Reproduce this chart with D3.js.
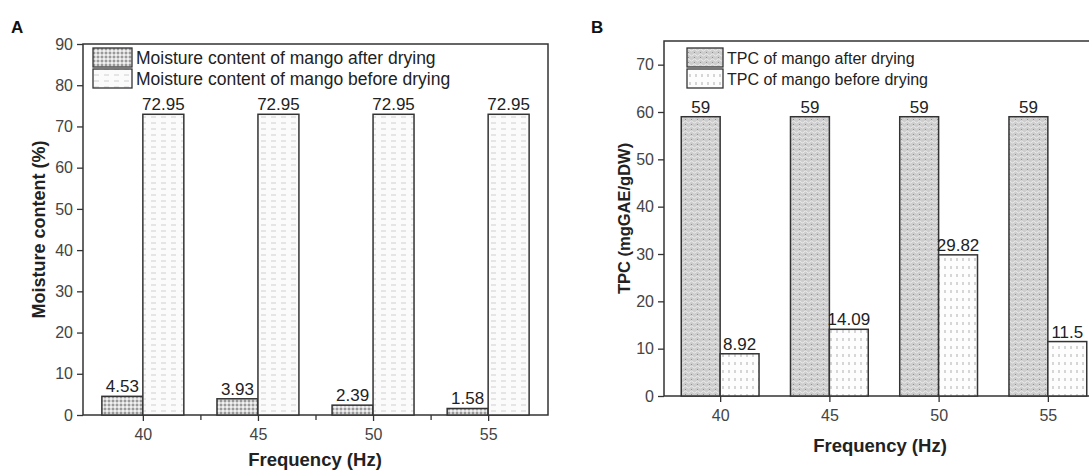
<!DOCTYPE html>
<html>
<head>
<meta charset="utf-8">
<script src="https://cdn.jsdelivr.net/npm/d3@7"></script>
<style>
  body { margin: 0; background: #fff; }
  svg { display: block; font-family: "Liberation Sans", Arial, sans-serif; }
  .tick text { fill: #444; font-size: 16px; }
  .tick line { stroke: #333; stroke-width: 1.3; }
</style>
</head>
<body>
<div id="chart"></div>
<script>
// values
const frequencies = [40, 45, 50, 55];
const moistureAfter = [4.53, 3.93, 2.39, 1.58];
const moistureBefore = [72.95, 72.95, 72.95, 72.95];
const tpcAfter = [59, 59, 59, 59];
const tpcBefore = [8.92, 14.09, 29.82, 11.5];

const moistureLegend = ["Moisture content of mango after drying", "Moisture content of mango before drying"];
const tpcLegend = ["TPC of mango after drying", "TPC of mango before drying"];

const width = 1089, height = 470;

const svg = d3.select("#chart").append("svg")
  .attr("width", width)
  .attr("height", height);

// fill patterns (grey textures of the original)
const defs = svg.append("defs");

function pattern(id, w, h, bg, draw) {
  let p = defs.append("pattern")
    .attr("id", id)
    .attr("patternUnits", "userSpaceOnUse")
    .attr("width", w)
    .attr("height", h);
  p.append("rect").attr("width", w).attr("height", h).attr("fill", bg);
  draw(p);
}

pattern("aAfter", 4, 4, "#d4d4d4", p => {
  p.append("rect").attr("x", 0).attr("y", 0).attr("width", 2).attr("height", 2).attr("fill", "#9a9a9a");
  p.append("rect").attr("x", 2).attr("y", 2).attr("width", 2).attr("height", 2).attr("fill", "#f0f0f0");
});
pattern("aBefore", 10, 6, "#fbfbfb", p => {
  p.append("line").attr("x1", 1).attr("x2", 6).attr("y1", 3).attr("y2", 3)
    .attr("stroke", "#cfcfcf").attr("stroke-width", 1);
});
pattern("bAfter", 6, 5, "#cdcdcd", p => {
  p.append("path").attr("d", "M0,2 Q1.5,0 3,2 T6,2")
    .attr("fill", "none").attr("stroke", "#ececec").attr("stroke-width", 1);
  p.append("rect").attr("x", 1).attr("y", 4).attr("width", 1).attr("height", 1).attr("fill", "#8f8f8f");
});
pattern("bBefore", 6, 8, "#fdfdfd", p => {
  p.append("rect").attr("x", 2).attr("y", 2).attr("width", 2).attr("height", 3).attr("fill", "#d6d6d6");
});

function panel(opts) {
  let g = svg.append("g");
  let x = d3.scaleLinear().domain(opts.xDomain).range(opts.xRange);
  let y = d3.scaleLinear().domain(opts.yDomain).range(opts.yRange);
  let barW = x(opts.xDomain[0] + 1.78) - x(opts.xDomain[0]);

  let rows = frequencies.map((f, i) => ({f: f, a: opts.after[i], b: opts.before[i]}));

  // frame
  g.append("rect")
    .attr("x", opts.xRange[0])
    .attr("y", opts.yRange[1])
    .attr("width", opts.xRange[1] - opts.xRange[0])
    .attr("height", opts.yRange[0] - opts.yRange[1])
    .attr("fill", "none")
    .attr("stroke", "#333")
    .attr("stroke-width", 1.5);

  // after drying bars (left of tick)
  g.append("g").selectAll("rect")
    .data(rows)
    .join("rect")
    .attr("x", d => x(d.f) - barW)
    .attr("y", d => y(d.a))
    .attr("width", barW)
    .attr("height", d => y(0) - y(d.a))
    .attr("fill", `url(#${opts.fills[0]})`)
    .attr("stroke", "#333")
    .attr("stroke-width", 1.5);

  // before drying bars (right of tick)
  g.append("g").selectAll("rect")
    .data(rows)
    .join("rect")
    .attr("x", d => x(d.f))
    .attr("y", d => y(d.b))
    .attr("width", barW)
    .attr("height", d => y(0) - y(d.b))
    .attr("fill", `url(#${opts.fills[1]})`)
    .attr("stroke", "#333")
    .attr("stroke-width", 1.5);

  // value labels
  let labels = rows.flatMap(d => [
    {cx: x(d.f) - barW / 2, v: d.a},
    {cx: x(d.f) + barW / 2, v: d.b}
  ]);
  g.append("g").selectAll("text")
    .data(labels)
    .join("text")
    .attr("x", d => d.cx)
    .attr("y", d => y(d.v) - 4)
    .attr("text-anchor", "middle")
    .attr("font-size", 17)
    .attr("fill", "#222")
    .text(d => d.v);

  // axes
  let yAxis = g.append("g")
    .attr("transform", `translate(${opts.xRange[0]},0)`)
    .call(d3.axisLeft(y).tickValues(opts.yTicks).tickSize(6).tickPadding(4).tickSizeOuter(0));
  yAxis.select(".domain").remove();

  let xAxis = g.append("g")
    .attr("transform", `translate(0,${opts.yRange[0]})`)
    .call(d3.axisBottom(x).tickValues(frequencies).tickSize(6).tickPadding(8).tickSizeOuter(0));
  xAxis.select(".domain").remove();

  if (opts.minor) {
    g.append("g")
      .attr("transform", `translate(0,${opts.yRange[0]})`)
      .call(d3.axisBottom(x).tickValues([42.5, 47.5, 52.5]).tickSize(5).tickFormat(""))
      .call(a => a.select(".domain").remove());
  }

  // axis titles
  g.append("text")
    .attr("transform", `translate(${opts.yTitleX},${(opts.yRange[0] + opts.yRange[1]) / 2}) rotate(-90)`)
    .attr("text-anchor", "middle")
    .attr("font-size", opts.yTitleFont)
    .attr("font-weight", "bold")
    .attr("fill", "#222")
    .text(opts.yTitle);

  g.append("text")
    .attr("x", opts.xTitleX)
    .attr("y", opts.xTitleY)
    .attr("text-anchor", "middle")
    .attr("font-size", 18.5)
    .attr("font-weight", "bold")
    .attr("fill", "#222")
    .text("Frequency (Hz)");

  // panel letter
  g.append("text")
    .attr("x", opts.letterX)
    .attr("y", 33)
    .attr("font-size", 17)
    .attr("font-weight", "bold")
    .attr("fill", "#111")
    .text(opts.letter);

  // legend
  let leg = g.append("g")
    .attr("transform", `translate(${opts.legX},${opts.legY})`);
  opts.legend.forEach((name, i) => {
    leg.append("rect")
      .attr("x", 0)
      .attr("y", i * 21)
      .attr("width", opts.swW)
      .attr("height", 19)
      .attr("fill", `url(#${opts.fills[i]})`)
      .attr("stroke", "#333")
      .attr("stroke-width", 1.3);
    leg.append("text")
      .attr("x", opts.swW + 4)
      .attr("y", i * 21 + 16)
      .attr("font-size", opts.legFont)
      .attr("fill", "#222")
      .text(name);
  });
}

panel({
  letter: "A", letterX: 11,
  after: moistureAfter, before: moistureBefore,
  fills: ["aAfter", "aBefore"],
  xDomain: [37.4, 57.6], xRange: [83, 548],
  yDomain: [0, 90], yRange: [415, 44],
  yTicks: [0, 10, 20, 30, 40, 50, 60, 70, 80, 90],
  minor: true,
  yTitle: "Moisture content (%)", yTitleX: 45, yTitleFont: 18,
  xTitleX: 315, xTitleY: 466,
  legend: moistureLegend, legX: 93, legY: 48, swW: 39, legFont: 17.5
});

panel({
  letter: "B", letterX: 591,
  after: tpcAfter, before: tpcBefore,
  fills: ["bAfter", "bBefore"],
  xDomain: [37.43, 57.57], xRange: [664, 1104],
  yDomain: [0, 75], yRange: [396, 41],
  yTicks: [0, 10, 20, 30, 40, 50, 60, 70],
  minor: false,
  yTitle: "TPC (mgGAE/gDW)", yTitleX: 630, yTitleFont: 16.5,
  xTitleX: 880, xTitleY: 452,
  legend: tpcLegend, legX: 687, legY: 48, swW: 36, legFont: 16
});
</script>
</body>
</html>
